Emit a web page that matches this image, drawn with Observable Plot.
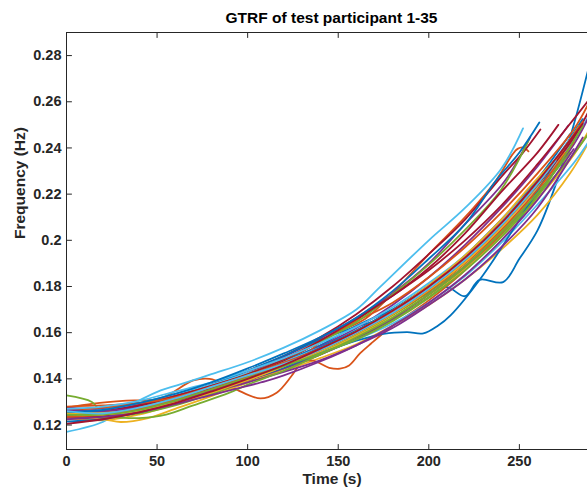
<!DOCTYPE html>
<html><head><meta charset="utf-8">
<script src="https://cdn.jsdelivr.net/npm/d3@7"></script>
<script src="https://cdn.jsdelivr.net/npm/@observablehq/plot@0.6"></script>
<style>body{margin:0;background:#fff}svg{display:block}</style>
</head><body><div id="chart"></div>
<script>
const colors = ["#0072BD","#D95319","#EDB120","#7E2F8E","#77AC30","#4DBEEE","#A2142F"];
const xTicks = [0,50,100,150,200,250];
const yTicks = [0.12,0.14,0.16,0.18,0.2,0.22,0.24,0.26,0.28];
const titleText = "GTRF of test participant 1-35";
const xLabel = "Time (s)";
const yLabel = "Frequency (Hz)";
const xDomain = [0,287.6];
const yDomain = [0.1094,0.29];

const p01 = [[0,.1245],[20,.125],[40,.1275],[60,.1315],[80,.1365],[100,.1415],[120,.1475],[140,.1545],[160,.163],[180,.170],[200,.177],[210,.1797],[220,.1758],[228,.1829],[241,.1819],[250,.192],[260,.2043],[270,.224],[280,.250],[288,.274]];
const p02 = [[0,.1275],[15,.1293],[33,.1306],[52,.1315],[70,.1393],[79,.140],[92,.136],[107,.1315],[116,.134],[124,.141],[132,.150],[142,.157],[152,.161],[165,.166],[180,.177],[200,.194],[220,.210],[237,.2258],[246,.237],[249,.2396],[252,.2402],[255,.2385]];
const p03 = [[0,.1235],[20,.122],[40,.1245],[60,.129],[80,.1335],[100,.139],[120,.1435],[140,.149],[160,.155],[180,.163],[200,.172],[220,.183],[240,.196],[260,.211],[278,.229],[288,.242]];
const p04 = [[0,.125],[20,.1255],[40,.1285],[60,.132],[80,.1365],[100,.1425],[120,.1495],[140,.1575],[160,.1665],[180,.177],[200,.190],[220,.207],[242,.2258],[256,.2447]];
const p05 = [[0,.1328],[14,.130],[19,.1262],[30,.1265],[40,.1275],[60,.1305],[80,.1345],[100,.139],[120,.1445],[140,.1505],[160,.1575],[180,.1655],[200,.1755],[220,.1875],[240,.2025],[260,.2195],[283,.2485]];
const p06 = [[0,.117],[20,.1213],[30,.1263],[52,.135],[61,.1372],[80,.142],[100,.1472],[120,.1535],[140,.161],[160,.170],[173,.1797],[200,.200],[220,.214],[240,.231],[252,.2485]];
const p07 = [[0,.1255],[20,.126],[40,.1285],[60,.1325],[80,.1375],[100,.1435],[120,.150],[140,.158],[160,.168],[180,.180],[200,.194],[220,.209],[240,.2275],[252,.238],[261.6,.248]];
const p08 = [[0,.1265],[20,.1255],[40,.128],[60,.1325],[80,.1375],[100,.1435],[120,.150],[140,.157],[160,.1625],[180,.168],[200,.178],[220,.191],[240,.2065],[260,.2245],[280,.2445]];
const p09 = [[0,.1225],[20,.123],[40,.1255],[60,.1295],[80,.1345],[100,.139],[120,.1445],[135,.148],[145,.1448],[151,.1444],[156,.1458],[162,.151],[168,.1552],[180,.163],[200,.174],[220,.187],[240,.203],[260,.2215],[285,.249]];
const p10 = [[0,.1245],[20,.1235],[40,.1255],[60,.1295],[80,.1345],[100,.1405],[120,.1465],[140,.1525],[160,.159],[180,.1665],[200,.1765],[220,.1875],[240,.2015],[260,.218],[280,.237],[288,.247]];
const p11 = [[0,.1275],[20,.127],[40,.129],[60,.1325],[80,.1365],[100,.1405],[120,.1465],[140,.154],[160,.162],[180,.172],[200,.184],[220,.198],[240,.214],[260,.232],[277,.2497]];
const p12 = [[0,.1235],[20,.1235],[40,.125],[60,.1285],[80,.1335],[100,.1385],[120,.1445],[140,.1515],[160,.159],[180,.1675],[200,.1775],[220,.189],[240,.2035],[260,.2195],[280,.2375],[288,.246]];
const p13 = [[0,.1255],[20,.1265],[40,.1295],[60,.1335],[80,.1375],[100,.1425],[120,.1475],[140,.1535],[160,.1605],[180,.1685],[200,.1785],[220,.1905],[240,.2055],[260,.223],[280,.243],[288,.2535]];
const p14 = [[0,.1245],[20,.1255],[40,.128],[60,.1315],[80,.136],[100,.1415],[120,.148],[140,.156],[160,.1655],[180,.176],[200,.187],[220,.200],[240,.215],[260,.233],[280,.2525],[288,.2605]];
const p15 = [[0,.123],[20,.124],[40,.1265],[60,.1305],[80,.1355],[100,.1405],[120,.1465],[140,.1535],[160,.161],[180,.170],[200,.1805],[220,.1935],[240,.209],[260,.2265],[278,.246]];
const p16 = [[0,.1265],[20,.1275],[40,.1295],[60,.1325],[80,.137],[100,.142],[120,.1485],[140,.1565],[160,.165],[180,.173],[200,.184],[220,.197],[240,.212],[260,.229],[280,.248],[288,.259]];
const p17 = [[0,.1225],[20,.1225],[30,.1213],[45,.123],[60,.127],[80,.1325],[100,.1385],[120,.1445],[140,.151],[160,.1585],[180,.1665],[200,.1765],[220,.1885],[240,.2035],[260,.221],[275,.238]];
const p18 = [[0,.124],[20,.1245],[40,.127],[60,.131],[80,.135],[100,.1395],[120,.1445],[140,.1505],[160,.1575],[180,.166],[200,.1765],[220,.1885],[240,.2035],[260,.2205],[280,.2415],[288,.253]];
const p19 = [[0,.1255],[20,.125],[40,.1275],[60,.1315],[80,.1365],[100,.142],[120,.1485],[140,.156],[160,.1645],[180,.1765],[200,.1895],[220,.2045],[240,.222],[255,.2432]];
const p20 = [[0,.1235],[20,.124],[40,.1265],[60,.1305],[80,.1355],[100,.1405],[120,.1455],[140,.151],[160,.157],[180,.164],[200,.173],[220,.1845],[243,.2013],[260,.2155],[280,.2335],[288,.2425]];
const p21 = [[0,.1255],[20,.126],[40,.1285],[60,.1325],[80,.137],[100,.142],[120,.1485],[140,.1565],[160,.166],[180,.176],[200,.188],[220,.203],[240,.221],[260,.238],[271.5,.250]];
const p22 = [[0,.1215],[20,.1225],[40,.1255],[60,.1295],[80,.1345],[100,.1395],[120,.145],[140,.151],[160,.1565],[175,.1595],[188,.1602],[197,.1597],[205,.163],[212,.1675],[230,.185],[246,.204],[260,.2215],[275,.2405],[285,.2525]];
const p23 = [[0,.128],[20,.1285],[40,.1295],[60,.132],[80,.1365],[100,.1415],[120,.147],[140,.153],[160,.160],[180,.168],[200,.178],[220,.190],[240,.2045],[260,.222],[280,.2425]];
const p24 = [[0,.126],[20,.1255],[40,.127],[60,.130],[80,.1345],[100,.1395],[120,.1455],[140,.152],[160,.1595],[180,.168],[200,.1785],[220,.1905],[240,.2055],[260,.2235],[283,.2495]];
const p25 = [[0,.1265],[20,.126],[40,.1275],[60,.1305],[80,.1345],[100,.1385],[120,.143],[140,.148],[160,.1545],[180,.162],[200,.172],[220,.183],[240,.197],[260,.214],[285,.2445]];
const p26 = [[0,.1245],[20,.1235],[40,.123],[55,.1245],[70,.1285],[90,.134],[100,.1375],[120,.1435],[140,.1505],[160,.158],[180,.1665],[200,.1765],[220,.1885],[240,.2035],[260,.2205],[278,.238]];
const p27 = [[0,.127],[20,.128],[40,.1305],[60,.1345],[80,.1385],[100,.1435],[120,.149],[140,.1555],[160,.1625],[180,.171],[200,.1815],[220,.1935],[240,.2085],[260,.2255],[280,.246]];
const p28 = [[0,.1235],[20,.124],[40,.1265],[60,.131],[80,.1355],[100,.1405],[120,.146],[140,.1525],[160,.160],[180,.1685],[200,.179],[220,.1915],[240,.2065],[260,.224],[280,.2445],[288,.2555]];
const p29 = [[0,.1255],[20,.1265],[40,.1295],[60,.1335],[80,.1385],[100,.1445],[120,.151],[140,.158],[160,.1665],[180,.178],[200,.192],[220,.207],[237,.2258],[250,.238],[261,.251]];
const p30 = [[0,.1235],[20,.1245],[40,.127],[60,.131],[80,.1355],[100,.141],[120,.1465],[140,.153],[160,.1605],[180,.169],[200,.1795],[220,.192],[240,.207],[260,.2245],[285,.2515]];
const p31 = [[0,.125],[20,.1245],[40,.126],[60,.1295],[80,.134],[100,.1395],[120,.1455],[140,.1525],[160,.1605],[180,.1695],[200,.1805],[220,.1935],[240,.209],[255,.2225],[270,.235]];
const p32 = [[0,.1225],[20,.1235],[40,.1255],[60,.129],[80,.133],[95,.136],[110,.139],[120,.1415],[140,.1475],[160,.1545],[180,.163],[200,.173],[220,.185],[240,.200],[260,.2175],[280,.2395]];
const p33 = [[0,.1245],[20,.1245],[40,.1265],[60,.1305],[80,.1355],[100,.1405],[120,.1455],[140,.151],[160,.157],[180,.165],[200,.175],[220,.187],[240,.2015],[260,.219],[285,.2495]];
const p34 = [[0,.126],[20,.125],[40,.1275],[60,.1315],[80,.1365],[100,.1415],[120,.1465],[140,.1525],[160,.160],[180,.1685],[200,.179],[220,.1915],[240,.2065],[255,.2195],[270,.2345]];
const p35 = [[0,.1205],[20,.1225],[40,.1255],[60,.1295],[80,.1345],[100,.140],[120,.146],[140,.153],[160,.1605],[180,.1695],[200,.180],[220,.1925],[240,.2075],[260,.2255],[285,.2505]];

const participants = [p01,p02,p03,p04,p05,p06,p07,p08,p09,p10,p11,p12,p13,p14,p15,p16,p17,p18,p19,p20,p21,p22,p23,p24,p25,p26,p27,p28,p29,p30,p31,p32,p33,p34,p35];
const rows = participants.flatMap((pts, i) => pts.map(([t, f]) => ({id: i + 1, t, f, c: colors[i % 7]})));

const axisColor = "#262626";
const tickShape = {draw(ctx, l) { ctx.moveTo(0, 0); ctx.lineTo(0, -l); }};
const font = "Liberation Sans, Arial, Helvetica, sans-serif";

const chart = Plot.plot({
  width: 587, height: 487,
  marginLeft: 66, marginRight: 0, marginTop: 32, marginBottom: 38,
  x: {domain: xDomain},
  y: {domain: yDomain},
  color: {type: "identity"},
  style: {fontFamily: font, background: "#fff"},
  marks: [
    Plot.line(rows, {x: "t", y: "f", z: "id", stroke: "c", strokeWidth: 1.8, curve: "catmull-rom", clip: true}),
    Plot.ruleX([xDomain[0]], {stroke: axisColor, strokeWidth: 1}),
    Plot.ruleY([yDomain[0]], {stroke: axisColor, strokeWidth: 1}),
    Plot.ruleY([yDomain[1]], {stroke: axisColor, strokeWidth: 1}),
    Plot.vector(xTicks, {x: d => d, frameAnchor: "bottom", length: 5, rotate: 0, anchor: "start", shape: tickShape, stroke: axisColor, strokeWidth: 1}),
    Plot.vector(xTicks, {x: d => d, frameAnchor: "top", length: 5, rotate: 180, anchor: "start", shape: tickShape, stroke: axisColor, strokeWidth: 1}),
    Plot.vector(yTicks, {y: d => d, frameAnchor: "left", length: 5, rotate: 90, anchor: "start", shape: tickShape, stroke: axisColor, strokeWidth: 1}),
    Plot.axisX(xTicks, {anchor: "bottom", tickSize: 0, tickPadding: 6, fontSize: 14.5, fontWeight: "bold", color: axisColor, label: null, tickFormat: d => String(d)}),
    Plot.axisY(yTicks, {anchor: "left", tickSize: 0, tickPadding: 5, fontSize: 14.5, fontWeight: "bold", color: axisColor, label: null, tickFormat: d => String(d)}),
    Plot.text([titleText], {text: d => d, frameAnchor: "top", dy: -14, dx: 4.5, fontSize: 15.5, fontWeight: "bold", fill: "#000", lineAnchor: "middle"}),
    Plot.text([xLabel], {text: d => d, frameAnchor: "bottom", dy: 30, dx: 5, fontSize: 15.5, fontWeight: "bold", fill: axisColor, lineAnchor: "middle"}),
    Plot.text([yLabel], {text: d => d, frameAnchor: "left", dx: -46, dy: -2, rotate: -90, fontSize: 15.5, fontWeight: "bold", fill: axisColor, lineAnchor: "middle"})
  ]
});
document.getElementById("chart").appendChild(chart);
</script>
</body></html>
